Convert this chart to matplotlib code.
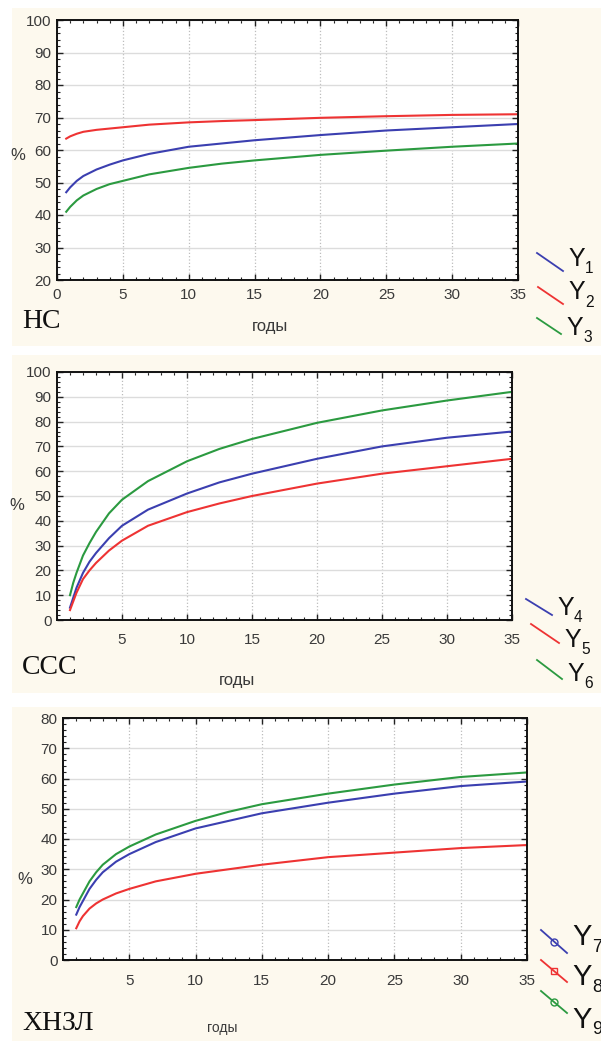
import matplotlib
matplotlib.use('Agg')
import matplotlib.pyplot as plt
from matplotlib.lines import Line2D
from matplotlib.patches import Rectangle
from matplotlib.ticker import MultipleLocator

# ---------------- data ----------------
years_nc = [0.7, 1, 1.5, 2, 3, 4, 5, 7, 10, 12.5, 15, 20, 25, 30, 35]
y1 = [47, 48.5, 50.5, 52, 54, 55.5, 56.8, 58.8, 61, 62, 63, 64.6, 66, 67, 68]
y2 = [63.5, 64.2, 65, 65.6, 66.2, 66.6, 67, 67.8, 68.5, 68.9, 69.2, 69.9, 70.4, 70.8, 71]
y3 = [41, 42.5, 44.5, 46, 48, 49.5, 50.5, 52.5, 54.5, 55.8, 56.8, 58.5, 59.8, 61, 62]

years_ccc = [1, 1.25, 1.5, 2, 2.5, 3, 4, 5, 7, 10, 12.5, 15, 20, 25, 30, 35]
y4 = [5, 9, 13, 19, 23.5, 27, 33, 38, 44.5, 51, 55.5, 59, 65, 70, 73.5, 76]
y5 = [4, 7.5, 11, 16.5, 20, 23, 28, 32, 38, 43.5, 47, 50, 55, 59, 62, 65]
y6 = [10, 15, 19, 26, 31, 35.5, 43, 48.5, 56, 64, 69, 73, 79.5, 84.5, 88.5, 92]

years_hnzl = [1, 1.25, 1.5, 2, 2.5, 3, 4, 5, 7, 10, 12.5, 15, 20, 25, 30, 35]
y7 = [15, 17.5, 19.5, 23.5, 26.5, 29, 32.5, 35, 39, 43.5, 46, 48.5, 52, 55, 57.5, 59]
y8 = [10.5, 12.8, 14.5, 17, 18.7, 20, 22, 23.5, 26, 28.5, 30, 31.5, 34, 35.5, 37, 38]
y9 = [17.5, 20, 22, 26, 29, 31.5, 35, 37.5, 41.5, 46, 49, 51.5, 55, 58, 60.5, 62]

panel_names = ['НС', 'ССС', 'ХНЗЛ']
x_label = 'годы'
y_label = '%'

BLUE = '#3b3fb0'
RED = '#ee3333'
GREEN = '#2b9a40'
CREAM = '#fdf9ee'
TICK_FONT = ['Liberation Sans Narrow', 'DejaVu Sans Condensed', 'Liberation Sans']

W, H = 601, 1041
fig = plt.figure(figsize=(W / 100, H / 100), dpi=100, facecolor='white')


def fx(px):
    return px / W


def fy(py):
    return 1 - py / H


# cream backgrounds of the three screenshots
for top, bottom in [(8, 346), (355, 693), (707, 1041)]:
    fig.patches.append(Rectangle((fx(12), fy(bottom)), fx(W - 12), (bottom - top) / H,
                                 transform=fig.transFigure, facecolor=CREAM,
                                 edgecolor='none', zorder=-5))


def make_axes(left, top, right, bottom, ylim, ystep, xticks, pad):
    ax = fig.add_axes([fx(left), fy(bottom), (right - left) / W, (bottom - top) / H])
    ax.set_zorder(2)
    ax.set_facecolor('white')
    ax.set_xlim(0, 35)
    ax.set_ylim(*ylim)
    ax.set_xticks(xticks)
    ax.set_yticks(range(ylim[0], ylim[1] + 1, ystep))
    ax.xaxis.set_minor_locator(MultipleLocator(1))
    ax.yaxis.set_minor_locator(MultipleLocator(2))
    ax.tick_params(which='both', direction='in', top=True, right=True, color='#222222')
    ax.tick_params(which='major', length=4, width=1)
    ax.tick_params(which='minor', length=2.5, width=0.8)
    ax.tick_params(axis='x', pad=pad)
    ax.tick_params(axis='y', pad=4)
    for lab in ax.get_xticklabels() + ax.get_yticklabels():
        lab.set_family(TICK_FONT)
        lab.set_fontsize(11)
        lab.set_color('#3a3a3a')
    ax.grid(axis='y', color='#dcdcdc', linestyle='-', linewidth=1)
    ax.grid(axis='x', color='#bdbdbd', linestyle=':', linewidth=0.9)
    for sp in ax.spines.values():
        sp.set_linewidth(1.4)
        sp.set_color('#111111')
    return ax


def legend_entry(x0, y0, x1, y1_, color, ty, num, marker=None, size=18):
    fig.add_artist(Line2D([fx(x0), fx(x1)], [fy(y0), fy(y1_)], color=color, lw=1.3,
                          transform=fig.transFigure))
    if marker:
        fig.add_artist(Line2D([fx((x0 + x1) / 2)], [fy((y0 + y1_) / 2)], marker=marker,
                              markersize=5, markerfacecolor='none', markeredgecolor=color,
                              transform=fig.transFigure))
    fig.text(fx(x1 + 5), fy(ty), 'Y', fontsize=size, family=TICK_FONT, color='#111111',
             va='center', ha='left')
    fig.text(fx(x1 + 5 + size * 0.95), fy(ty + 10), num, fontsize=size * 0.62,
             family=TICK_FONT, color='#111111', va='center', ha='left')


# ---------------- panel 1: НС ----------------
ax1 = make_axes(57, 20, 518, 280, (20, 100), 10, range(0, 36, 5), 6)
ax1.plot(years_nc, y1, color=BLUE, lw=1.5)
ax1.plot(years_nc, y2, color=RED, lw=1.5)
ax1.plot(years_nc, y3, color=GREEN, lw=1.5)
fig.text(fx(18), fy(155), y_label, fontsize=12, family=TICK_FONT, color='#3a3a3a',
         ha='center', va='center')
fig.text(fx(270), fy(326), x_label, fontsize=12, family=TICK_FONT, color='#3a3a3a',
         ha='center', va='center')
fig.text(fx(22), fy(322), panel_names[0], fontsize=20, family='Liberation Serif',
         color='#111111', ha='left', va='center')
legend_entry(537, 253, 563, 271, BLUE, 259, '1')
legend_entry(538, 287, 563, 304, RED, 292, '2')
legend_entry(537, 318, 561, 334, GREEN, 328, '3')

# ---------------- panel 2: ССС ----------------
ax2 = make_axes(57, 372, 512, 620, (0, 100), 10, range(5, 36, 5), 9)
ax2.plot(years_ccc, y4, color=BLUE, lw=1.5)
ax2.plot(years_ccc, y5, color=RED, lw=1.5)
ax2.plot(years_ccc, y6, color=GREEN, lw=1.5)
fig.text(fx(17), fy(505), y_label, fontsize=12, family=TICK_FONT, color='#3a3a3a',
         ha='center', va='center')
fig.text(fx(237), fy(680), x_label, fontsize=12, family=TICK_FONT, color='#3a3a3a',
         ha='center', va='center')
fig.text(fx(22), fy(667), panel_names[1], fontsize=20, family='Liberation Serif',
         color='#111111', ha='left', va='center')
legend_entry(526, 599, 552, 615, BLUE, 608, '4')
legend_entry(531, 624, 559, 643, RED, 640, '5')
legend_entry(537, 660, 562, 679, GREEN, 674, '6')

# ---------------- panel 3: ХНЗЛ ----------------
ax3 = make_axes(63, 718, 527, 960, (0, 80), 10, range(5, 36, 5), 10)
ax3.plot(years_hnzl, y7, color=BLUE, lw=1.5)
ax3.plot(years_hnzl, y8, color=RED, lw=1.5)
ax3.plot(years_hnzl, y9, color=GREEN, lw=1.5)
fig.text(fx(25), fy(880), y_label, fontsize=12, family=TICK_FONT, color='#3a3a3a',
         ha='center', va='center')
fig.text(fx(222), fy(1028), x_label, fontsize=10, family=TICK_FONT, color='#3a3a3a',
         ha='center', va='center')
fig.text(fx(22), fy(1024), panel_names[2], fontsize=20, family='Liberation Serif',
         color='#111111', ha='left', va='center')
legend_entry(541, 930, 567, 953, BLUE, 937, '7', marker='o', size=21)
legend_entry(541, 960, 567, 982, RED, 977, '8', marker='s', size=21)
legend_entry(541, 991, 567, 1013, GREEN, 1020, '9', marker='o', size=21)

fig.savefig('out.png', dpi=100, facecolor=fig.get_facecolor())
